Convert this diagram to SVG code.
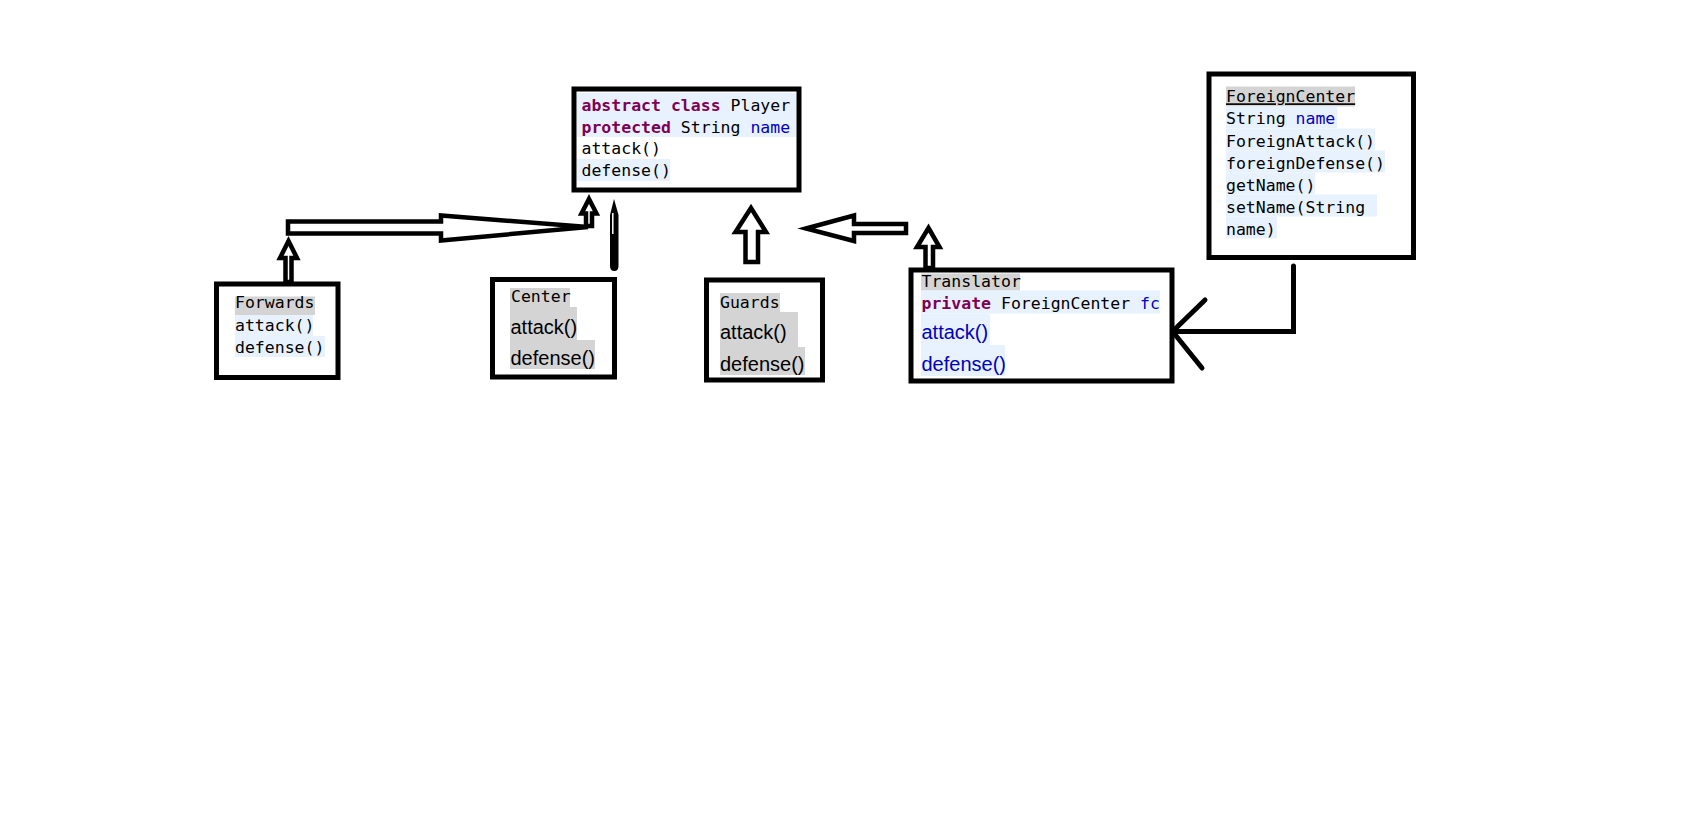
<svg xmlns="http://www.w3.org/2000/svg" width="1699" height="813" viewBox="0 0 1699 813">
<style>
.bg{fill:#fff}
.box{fill:#fff;stroke:#000;stroke-width:5}
.mono{font-family:"DejaVu Sans Mono","Liberation Mono",monospace;font-size:16.5px;fill:#000}
.sans{font-family:"Liberation Sans",Arial,sans-serif;font-size:20px;fill:#000}
.kw{fill:#7f0055;font-weight:bold}
.fld{fill:#0000c0}
.hg{fill:#d4d4d4}
.hb{fill:#e8f2fe}
.arr{fill:#fff;stroke:#000;stroke-width:4.5;stroke-linejoin:miter}
.ln{fill:none;stroke:#000;stroke-width:5;stroke-linecap:round;stroke-linejoin:miter}
</style>
<rect class="bg" x="0" y="0" width="1699" height="813"/>

<g id="connectors">
  <polygon class="arr" points="288,221.5 441,221.5 441,215.5 588,227 441,240.5 441,233.5 288,233.5"/>
  <polygon class="arr" points="288.5,241 297,258 291.5,258 291.5,282 285.5,282 285.5,258 280,258"/>
  <polygon class="arr" points="589,199 596.5,213.5 592,213.5 592,226 586,226 586,213.5 581.5,213.5"/>
  <path d="M614,199 L618.5,215 L618.5,266 Q618.5,271 614.3,271 Q610,271 610,266 L610,215 Z" fill="#000"/>
  <line x1="612.8" y1="213" x2="612.8" y2="234" stroke="#fff" stroke-width="1.5"/>
  <polygon class="arr" points="751,208 766,232 758,232 758,262 745.5,262 745.5,232 735.5,232"/>
  <polygon class="arr" points="806,228.5 854,215.5 854,224 906,224 906,233 854,233 854,241"/>
  <polygon class="arr" points="928.5,228 939.5,247 933,247 933,268 925.5,268 925.5,247 917,247"/>
  <polyline class="ln" points="1293.5,266 1293.5,331.5 1173,331.5"/>
  <line class="ln" x1="1205" y1="300" x2="1173" y2="331"/>
  <line class="ln" x1="1202" y1="368" x2="1173" y2="332"/>
</g>

<g id="player">
  <rect class="box" x="574" y="89" width="225" height="101"/>
  <rect class="hb" x="577" y="93" width="219" height="44"/>
  <rect class="hb" x="577" y="159" width="93" height="22"/>
  <text class="mono" x="581.5" y="111"><tspan class="kw">abstract</tspan> <tspan class="kw">class</tspan> Player</text>
  <text class="mono" x="581.5" y="132.5"><tspan class="kw">protected</tspan> String <tspan class="fld">name</tspan></text>
  <text class="mono" x="581.5" y="154">attack()</text>
  <text class="mono" x="581.5" y="176">defense()</text>
</g>

<g id="forwards">
  <rect class="box" x="216.5" y="284" width="121.5" height="93.5"/>
  <rect class="hg" x="235" y="296.5" width="80" height="18.5"/>
  <rect class="hb" x="235" y="315" width="78" height="21"/>
  <rect class="hb" x="235" y="336" width="90" height="21"/>
  <text class="mono" x="235" y="308">Forwards</text>
  <text class="mono" x="235" y="330.5">attack()</text>
  <text class="mono" x="235" y="352.5">defense()</text>
</g>

<g id="center">
  <rect class="box" x="492.5" y="279.5" width="122" height="97.5"/>
  <rect class="hg" x="510" y="288" width="60" height="19"/>
  <rect class="hg" x="510" y="307" width="67" height="33"/>
  <rect class="hg" x="510" y="340" width="85" height="29"/>
  <text class="mono" x="511" y="302">Center</text>
  <text class="sans" x="510.5" y="333.5">attack()</text>
  <text class="sans" x="510.5" y="364.5">defense()</text>
</g>

<g id="guards">
  <rect class="box" x="706.5" y="280" width="116" height="100"/>
  <rect class="hg" x="720" y="293" width="60" height="19"/>
  <rect class="hg" x="720" y="312" width="78" height="35"/>
  <rect class="hg" x="720" y="347" width="85" height="28"/>
  <text class="mono" x="720" y="308">Guards</text>
  <text class="sans" x="720" y="339">attack()</text>
  <text class="sans" x="720" y="370.5">defense()</text>
</g>

<g id="translator">
  <rect class="box" x="911" y="270" width="261" height="111"/>
  <rect class="hg" x="921" y="273.5" width="99" height="17"/>
  <rect class="hb" x="921" y="290.5" width="239" height="23"/>
  <rect class="hb" x="921" y="313.5" width="69" height="31.5"/>
  <rect class="hb" x="921" y="345" width="84" height="31"/>
  <text class="mono" x="921.5" y="287">Translator</text>
  <text class="mono" x="921.5" y="309"><tspan class="kw">private</tspan> ForeignCenter <tspan class="fld">fc</tspan></text>
  <text class="sans fld" x="921.5" y="339">attack()</text>
  <text class="sans fld" x="921.5" y="370.5">defense()</text>
</g>

<g id="foreigncenter">
  <rect class="box" x="1209" y="74" width="204.5" height="183.5"/>
  <rect class="hg" x="1226" y="86.5" width="129" height="20"/>
  <rect class="hb" x="1226" y="106.5" width="111" height="22"/>
  <rect class="hb" x="1226" y="128.5" width="149" height="22"/>
  <rect class="hb" x="1226" y="150.5" width="159" height="22"/>
  <rect class="hb" x="1226" y="172.5" width="89" height="22"/>
  <rect class="hb" x="1226" y="194.5" width="151" height="22"/>
  <rect class="hb" x="1226" y="216.5" width="51" height="22"/>
  <text class="mono" x="1226" y="102.3" text-decoration="underline">ForeignCenter</text>
  <text class="mono" x="1226" y="124.4">String <tspan class="fld">name</tspan></text>
  <text class="mono" x="1226" y="146.5">ForeignAttack()</text>
  <text class="mono" x="1226" y="168.6">foreignDefense()</text>
  <text class="mono" x="1226" y="190.7">getName()</text>
  <text class="mono" x="1226" y="212.8">setName(String</text>
  <text class="mono" x="1226" y="234.9">name)</text>
</g>
</svg>
